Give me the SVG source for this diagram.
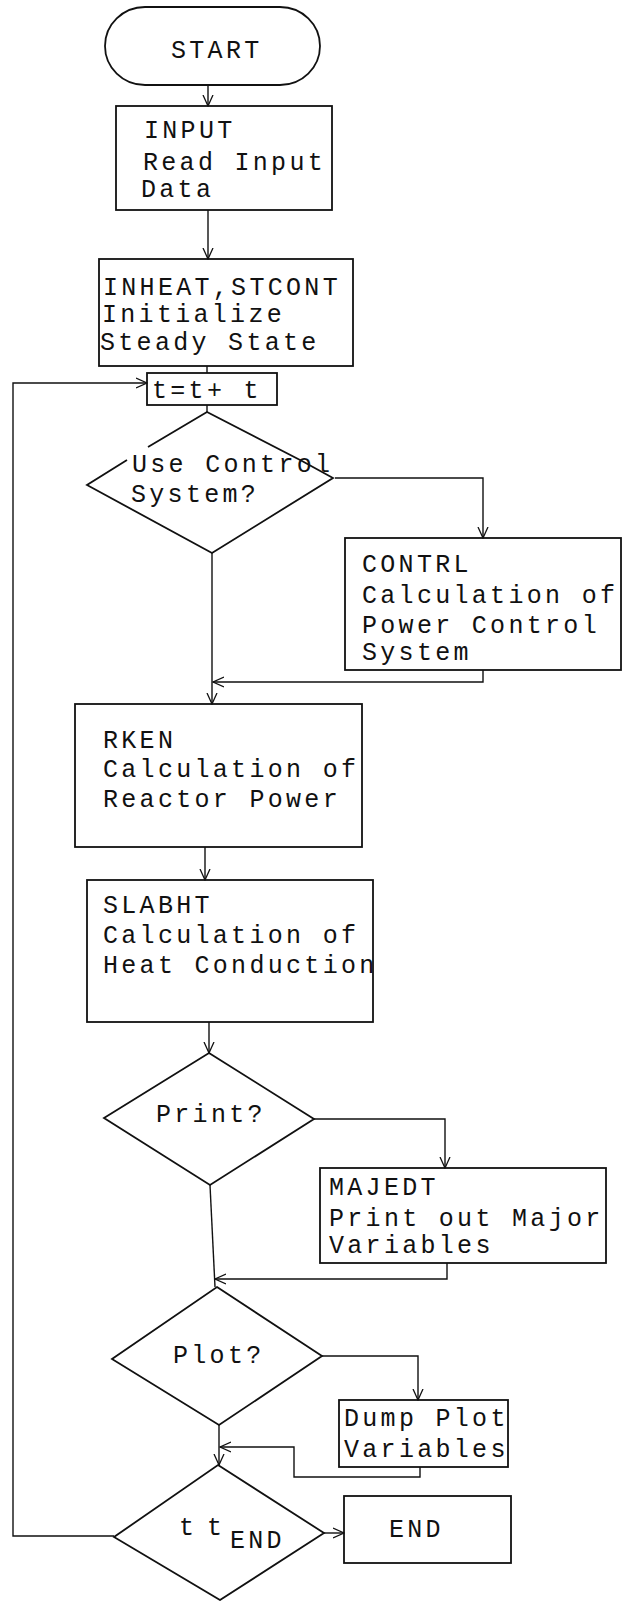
<svg xmlns="http://www.w3.org/2000/svg" width="623" height="1601" viewBox="0 0 623 1601">
<defs>
<style>
.box{fill:none;stroke:#111;stroke-width:1.8}
.con{fill:none;stroke:#111;stroke-width:1.4}
.t{font-family:"Liberation Mono","DejaVu Sans Mono",monospace;font-size:25px;letter-spacing:3.3px;fill:#111}
</style>
<marker id="arr" viewBox="0 0 12 12" refX="11" refY="6" markerWidth="12" markerHeight="12" markerUnits="userSpaceOnUse" orient="auto">
<path d="M0,1 L11,6 L0,11" fill="none" stroke="#111" stroke-width="1.3"/>
</marker>
</defs>
<rect width="623" height="1601" fill="#fff"/>

<g id="connectors">
<line class="con" x1="208" y1="85" x2="208" y2="106" marker-end="url(#arr)"/>
<line class="con" x1="208" y1="210" x2="208" y2="259" marker-end="url(#arr)"/>
<line class="con" x1="207" y1="366" x2="207" y2="373"/>
<line class="con" x1="207" y1="405" x2="207" y2="412"/>
<polyline class="con" points="335,478 483,478 483,538" marker-end="url(#arr)"/>
<line class="con" x1="212" y1="553" x2="212" y2="704" marker-end="url(#arr)"/>
<polyline class="con" points="483,670 483,682 213,682" marker-end="url(#arr)"/>
<line class="con" x1="205" y1="847" x2="205" y2="880" marker-end="url(#arr)"/>
<line class="con" x1="209" y1="1022" x2="209" y2="1053" marker-end="url(#arr)"/>
<polyline class="con" points="314,1119 445,1119 445,1168" marker-end="url(#arr)"/>
<line class="con" x1="210" y1="1185" x2="215" y2="1287"/>
<polyline class="con" points="447,1263 447,1279 215,1279" marker-end="url(#arr)"/>
<polyline class="con" points="322,1356 418,1356 418,1400" marker-end="url(#arr)"/>
<line class="con" x1="219" y1="1425" x2="219" y2="1465" marker-end="url(#arr)"/>
<polyline class="con" points="420,1467 420,1477 294,1477 294,1447 220,1447" marker-end="url(#arr)"/>
<line class="con" x1="324" y1="1533" x2="344" y2="1533" marker-end="url(#arr)"/>
<polyline class="con" points="114,1536 13,1536 13,383 147,383" marker-end="url(#arr)"/>
</g>

<g id="start">
<rect class="box" x="105" y="7" width="215" height="78" rx="40" ry="39"/>
<text class="t" x="171" y="58">START</text>
</g>

<g id="input">
<rect class="box" x="116" y="106" width="216" height="104"/>
<text class="t" x="144" y="138">INPUT</text>
<text class="t" x="143" y="170">Read Input</text>
<text class="t" x="141" y="197">Data</text>
</g>

<g id="inheat">
<rect class="box" x="99" y="259" width="254" height="107"/>
<text class="t" x="103" y="295" letter-spacing="3.6">INHEAT,STCONT</text>
<text class="t" x="102" y="322">Initialize</text>
<text class="t" x="100" y="350">Steady State</text>
</g>

<g id="step">
<rect class="box" x="147" y="373" width="130" height="32"/>
<text class="t" x="152" y="398">t=t+ t</text>
</g>

<g id="usecontrol">
<path class="box" d="M148,447 L207,412 L302,461 L333,478 L212,553 L87,485 L127,460"/>
<text class="t" x="132" y="472">Use Control</text>
<text class="t" x="131" y="502">System?</text>
</g>

<g id="contrl">
<rect class="box" x="345" y="538" width="276" height="132"/>
<text class="t" x="362" y="572">CONTRL</text>
<text class="t" x="362" y="603">Calculation of</text>
<text class="t" x="362" y="633">Power Control</text>
<text class="t" x="362" y="660">System</text>
</g>

<g id="rken">
<rect class="box" x="75" y="704" width="287" height="143"/>
<text class="t" x="103" y="748">RKEN</text>
<text class="t" x="103" y="777">Calculation of</text>
<text class="t" x="103" y="807">Reactor Power</text>
</g>

<g id="slabht">
<rect class="box" x="87" y="880" width="286" height="142"/>
<text class="t" x="103" y="913">SLABHT</text>
<text class="t" x="103" y="943">Calculation of</text>
<text class="t" x="103" y="973">Heat Conduction</text>
</g>

<g id="print">
<polygon class="box" points="209,1053 314,1119 210,1185 104,1118"/>
<text class="t" x="156" y="1122">Print?</text>
</g>

<g id="majedt">
<rect class="box" x="320" y="1168" width="286" height="95"/>
<text class="t" x="329" y="1195">MAJEDT</text>
<text class="t" x="329" y="1226">Print out Major</text>
<text class="t" x="329" y="1253">Variables</text>
</g>

<g id="plot">
<polygon class="box" points="217,1287 322,1356 219,1425 112,1359"/>
<text class="t" x="173" y="1363">Plot?</text>
</g>

<g id="dump">
<rect class="box" x="339" y="1400" width="169" height="67"/>
<text class="t" x="344" y="1426">Dump Plot</text>
<text class="t" x="344" y="1457">Variables</text>
</g>

<g id="tend">
<polygon class="box" points="218,1465 324,1533 220,1600 114,1537"/>
<text class="t" x="179" y="1535">t</text>
<text class="t" x="207" y="1535">t</text>
<text class="t" x="230" y="1548">END</text>
</g>

<g id="end">
<rect class="box" x="344" y="1496" width="167" height="67"/>
<text class="t" x="389" y="1537">END</text>
</g>
</svg>
